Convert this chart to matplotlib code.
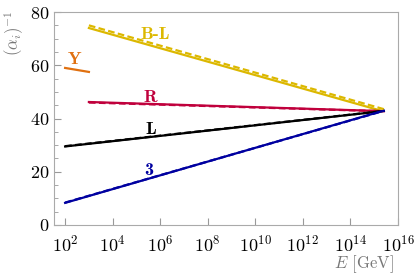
import matplotlib.pyplot as plt
import numpy as np

plt.rcParams['mathtext.fontset'] = 'cm'
plt.rcParams['font.family'] = 'serif'
plt.rcParams['font.serif'] = ['cmr10', 'DejaVu Serif']
plt.rcParams['axes.formatter.use_mathtext'] = True

# log10(E) endpoints and inverse couplings
names = ['B-L', 'R', 'L', '3']
colors = ['#dcb800', '#c0003c', '#000000', '#0000a0']
solid_x = [[3, 15.3], [3, 15.3], [2, 15.3], [2, 15.3]]
solid_y = [[74.0, 42.9], [46.2, 42.8], [29.5, 42.7], [8.3, 42.7]]
dash_x = [[3, 15.45], [3, 15.45], [2, 15.45], [2, 15.45]]
dash_y = [[75.0, 43.4], [46.0, 42.7], [29.6, 42.9], [8.4, 43.0]]
y_x = [2, 3]
y_y = [59.0, 57.5]
y_color = '#e07010'

label_x = [5.8, 5.6, 5.6, 5.5, 2.4]
label_y = [71.5, 48.0, 36.0, 20.5, 62.0]
label_txt = ['B-L', 'R', 'L', '3', 'Y']

fig = plt.figure(figsize=(4.15, 2.74), dpi=100)
ax = fig.add_axes([0.130, 0.179, 0.829, 0.777])

for i in range(len(names)):
    ax.plot(10.0 ** np.array(solid_x[i]), solid_y[i], color=colors[i], lw=1.6)
    ax.plot(10.0 ** np.array(dash_x[i]), dash_y[i], color=colors[i], lw=1.6,
            ls=(0, (3, 1.5)))
ax.plot(10.0 ** np.array(y_x), y_y, color=y_color, lw=1.6)

lab_colors = colors + [y_color]
for i in range(len(label_txt)):
    ax.text(10.0 ** label_x[i], label_y[i], label_txt[i], color=lab_colors[i],
            fontsize=13, fontweight='bold', family='cmb10',
            ha='center', va='center')

ax.set_xscale('log')
ax.set_xlim(10 ** 1.53, 1e16)
ax.set_ylim(0, 80)
ax.set_xticks([10.0 ** k for k in range(2, 17, 2)])
ax.xaxis.set_minor_locator(plt.NullLocator())
ax.set_yticks([0, 20, 40, 60, 80])
ax.set_yticks(np.arange(0, 81, 5), minor=True)
ax.tick_params(direction='in', labelsize=13, color='#999999', length=5)
ax.tick_params(which='minor', direction='in', color='#999999', length=3)
ax.tick_params(axis='x', pad=6)
for s in ax.spines.values():
    s.set_color('#aaaaaa')

ax.set_ylabel(r'$(\alpha_i)^{-1}$', color='#777777', fontsize=12)
ax.yaxis.set_label_coords(-0.08, 0.9)
ax.set_xlabel(r'$E$ [GeV]', color='#777777', fontsize=12)
ax.xaxis.set_label_coords(0.9, -0.135)

fig.savefig('out.png', dpi=100)
